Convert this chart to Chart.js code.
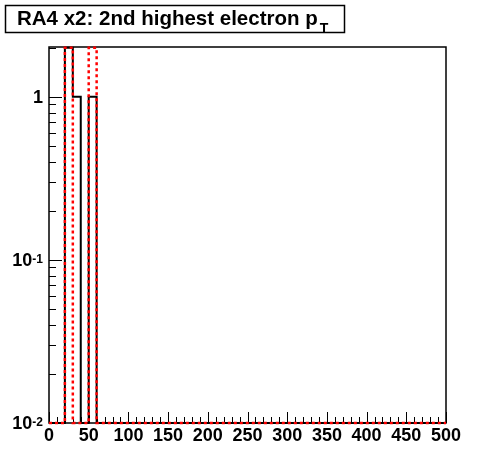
<!DOCTYPE html>
<html>
<head>
<meta charset="utf-8">
<script src="https://cdn.jsdelivr.net/npm/chart.js@4"></script>
<style>
  body { margin: 0; background: #fff; }
  canvas { display: block; }
</style>
</head>
<body>
<canvas id="myChart" width="496" height="472"></canvas>
<script>
// bin lower edges (10 GeV bins, 0..500)
const binEdges = [];
for (let i = 0; i <= 50; i++) binEdges.push(i * 10);

// bin contents, only non-empty bins listed
const blackBins = { 20: 2, 30: 1, 50: 1 };
const redBins = { 20: 2, 50: 2 };

const xTicks = [0, 50, 100, 150, 200, 250, 300, 350, 400, 450, 500];
const yTicks = [1, 0.1, 0.01];
const yTickLabels = [['1', ''], ['10', '-1'], ['10', '-2']];
const yMin = 0.01, yMax = 2.02;

// empty bins sit on the bottom of the log axis, like ROOT draws them
function stepPoints(bins) {
  let pts = binEdges.map(x => ({ x: x, y: bins[x] || yMin }));
  return pts;
}

const fontName = '"Liberation Sans", Arial, sans-serif';

// ROOT-style frame, ticks and labels
const rootAxes = {
  id: 'rootAxes',
  beforeDatasetsDraw(chart) {
    const c = chart.ctx;
    const xs = chart.scales.x, ys = chart.scales.y;
    const a = chart.chartArea;
    c.save();
    c.strokeStyle = '#000';
    c.lineWidth = 1.5;
    c.strokeRect(a.left, a.top, a.right - a.left, a.bottom - a.top);

    // x ticks
    c.lineWidth = 1;
    c.beginPath();
    for (let v = 0; v <= 500; v += 10) {
      let px = Math.round(xs.getPixelForValue(v)) + 0.5;
      let len = v % 50 === 0 ? 11 : 6;
      c.moveTo(px, a.bottom);
      c.lineTo(px, a.bottom - len);
    }
    // y ticks (log)
    for (let d = -2; d <= 0; d++) {
      for (let m = 1; m <= 9; m++) {
        let v = m * Math.pow(10, d);
        if (v > ys.max) break;
        let py = Math.round(ys.getPixelForValue(v)) + 0.5;
        let len = m === 1 ? 13 : 7;
        c.moveTo(a.left, py);
        c.lineTo(a.left + len, py);
      }
    }
    c.stroke();
    c.restore();
  },
  afterDraw(chart) {
    const c = chart.ctx;
    const xs = chart.scales.x, ys = chart.scales.y;
    c.save();
    c.fillStyle = '#000';
    c.strokeStyle = '#000';
    c.font = 'bold 18px ' + fontName;
    c.textAlign = 'center';
    c.textBaseline = 'alphabetic';
    xTicks.forEach(v => {
      c.fillText(String(v), xs.getPixelForValue(v), 441);
    });

    yTicks.forEach((v, i) => {
      let py = ys.getPixelForValue(v);
      let lab = yTickLabels[i];
      c.font = 'bold 12px ' + fontName;
      let supW = lab[1] ? c.measureText(lab[1]).width : 0;
      c.textAlign = 'right';
      if (lab[1]) c.fillText(lab[1], 43, py + 3);
      c.font = 'bold 18px ' + fontName;
      c.fillText(lab[0], 43 - supW, py + 6);
    });

    // title box
    c.lineWidth = 1.5;
    c.strokeRect(5.5, 5.5, 339, 27);
    c.textAlign = 'left';
    c.font = 'bold 20.5px ' + fontName;
    const t = 'RA4 x2: 2nd highest electron p';
    c.fillText(t, 17, 25);
    let tw = c.measureText(t).width;
    c.font = 'bold 14px ' + fontName;
    c.fillText('T', 17 + tw + 2, 33);
    c.restore();
  }
};

new Chart(document.getElementById('myChart'), {
  type: 'line',
  data: {
    datasets: [{
      label: 'red',
      data: stepPoints(redBins),
      stepped: 'before',
      borderColor: '#ff0000',
      borderWidth: 2.5,
      borderDash: [3, 3],
      pointRadius: 0,
      fill: false,
      clip: 4
    }, {
      label: 'black',
      data: stepPoints(blackBins),
      stepped: 'before',
      borderColor: '#000',
      borderWidth: 2,
      pointRadius: 0,
      fill: false,
      clip: 4
    }]
  },
  options: {
    responsive: false,
    animation: false,
    layout: { padding: { left: 49, right: 50, top: 47, bottom: 49 } },
    plugins: { legend: { display: false }, tooltip: { enabled: false } },
    scales: {
      x: { type: 'linear', min: 0, max: 500, display: false },
      y: { type: 'logarithmic', min: yMin, max: yMax, display: false }
    }
  },
  plugins: [rootAxes]
});
</script>
</body>
</html>
